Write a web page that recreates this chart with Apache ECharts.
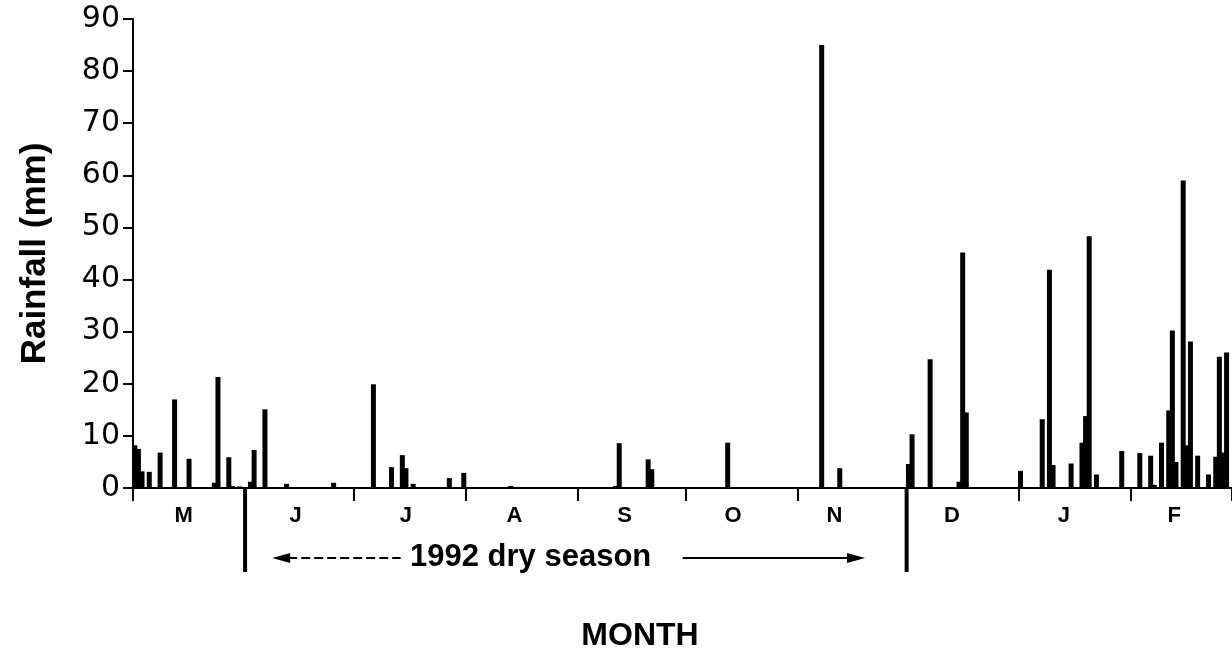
<!DOCTYPE html>
<html>
<head>
<meta charset="utf-8">
<script src="https://cdn.jsdelivr.net/npm/echarts@6/dist/echarts.min.js"></script>
<style>
  html, body { margin: 0; padding: 0; background: #fff; }
  #chart { width: 1232px; height: 660px; }
</style>
</head>
<body>
<div id="chart"></div>
<script>
// day index: 0 = 1 May 1992, 303 = 28 Feb 1993
const rainDays = [0, 1, 2, 4, 7, 11, 15, 22, 23, 26, 27, 29,
  32, 33, 36, 42, 55,
  66, 71, 74, 75, 77, 87, 91,
  104,
  133, 134, 142, 143,
  164,
  190, 195,
  214, 215, 220, 228, 229, 230,
  245, 251, 253, 254, 259, 262, 263, 264, 266, 273,
  278, 281, 282, 284, 286, 287, 288, 290, 291, 292, 294, 297, 299, 300, 301, 302];
const rainMm = [8.2, 7.5, 3.2, 3.1, 6.8, 17.0, 5.6, 1.0, 21.3, 5.9, 0.4, 0.3,
  1.2, 7.3, 15.1, 0.8, 1.0,
  19.9, 4.0, 6.3, 3.8, 0.8, 1.9, 2.9,
  0.4,
  0.4, 8.6, 5.5, 3.6,
  8.7,
  85.0, 3.8,
  4.6, 10.3, 24.7, 1.2, 45.2, 14.5,
  3.3, 13.2, 41.9, 4.4, 4.7, 8.7, 13.8, 48.3, 2.6, 7.1,
  6.7, 6.2, 0.6, 8.7, 14.9, 30.2, 5.0, 59.0, 8.2, 28.1, 6.2, 2.6, 6.0, 25.2, 6.8, 26.0];

const monthStarts = [0, 31, 61, 92, 123, 153, 184, 214, 245, 276, 304];
const monthLetters = ['M', 'J', 'J', 'A', 'S', 'O', 'N', 'D', 'J', 'F'];
const monthLabelDays = [14, 45, 75.5, 105.5, 136, 166, 194, 226.5, 257.5, 288];
const seasonBounds = [31, 214]; // 1 Jun, 1 Dec
const seasonArrow = [38.5, 202.5];

const chart = echarts.init(document.getElementById('chart'));

const font = 'Liberation Sans, Arial, Helvetica, sans-serif';

var option = {
  animation: false,
  grid: { left: 133, right: 0, top: 19, bottom: 172 },
  xAxis: [
    {
      type: 'value',
      min: 0,
      max: 304,
      axisLine: { onZero: false, lineStyle: { color: '#000', width: 2 } },
      axisTick: {
        show: true,
        customValues: monthStarts,
        length: 13,
        lineStyle: { color: '#000', width: 2 }
      },
      axisLabel: {
        customValues: monthLabelDays,
        formatter: function (v) {
          const i = monthLabelDays.findIndex(d => Math.abs(d - v) < 0.01);
          return i >= 0 ? monthLetters[i] : '';
        },
        color: '#000',
        fontSize: 22,
        fontWeight: 'bold',
        fontFamily: font,
        margin: 17
      },
      splitLine: { show: false }
    },
    {
      type: 'value',
      position: 'top',
      min: 0,
      max: 304,
      axisLine: { show: true, lineStyle: { color: '#000', width: 2 } },
      axisTick: { show: false },
      axisLabel: { show: false },
      splitLine: { show: false }
    }
  ],
  yAxis: {
    type: 'value',
    min: 0,
    max: 90,
    interval: 10,
    axisLine: { show: true, lineStyle: { color: '#000', width: 2 } },
    axisTick: { show: true, length: 10, lineStyle: { color: '#000', width: 2 } },
    axisLabel: { color: '#000', fontSize: 30, fontFamily: 'DejaVu Sans', margin: 13 },
    splitLine: { show: false },
    name: 'Rainfall (mm)',
    nameLocation: 'middle',
    nameGap: 80,
    nameTextStyle: { color: '#000', fontSize: 35, fontWeight: 'bold', fontFamily: font }
  },
  series: [
    {
      type: 'bar',
      barWidth: 5,
      itemStyle: { color: '#000' },
      data: rainDays.map((d, i) => [d + 0.5, rainMm[i]])
    }
  ]
};
chart.setOption(option);

// season markers, dry season arrow and axis title, placed through the axis scales
const px = d => chart.convertToPixel({ xAxisIndex: 0 }, d);
const base = chart.convertToPixel({ yAxisIndex: 0 }, 0);
const arrowY = base + 70;
const x0 = px(seasonArrow[0]);
const x1 = px(seasonArrow[1]);
const textX = (x0 + x1) / 2 - 38;

const graphics = seasonBounds.map(d => ({
  type: 'line',
  shape: { x1: px(d), y1: base, x2: px(d), y2: base + 84 },
  style: { stroke: '#000', lineWidth: 4 }
}));
graphics.push(
  {
    type: 'polygon',
    shape: { points: [[x0, arrowY], [x0 + 18, arrowY - 5], [x0 + 18, arrowY + 5]] },
    style: { fill: '#000' }
  },
  {
    type: 'line',
    shape: { x1: x0 + 16, y1: arrowY, x2: textX - 130, y2: arrowY },
    style: { stroke: '#000', lineWidth: 2, lineDash: [9, 4] }
  },
  {
    type: 'text',
    x: textX,
    y: arrowY - 1,
    style: {
      text: '1992 dry season',
      fill: '#000',
      font: 'bold 31px ' + font,
      align: 'center',
      verticalAlign: 'middle'
    }
  },
  {
    type: 'line',
    shape: { x1: textX + 152, y1: arrowY, x2: x1 - 16, y2: arrowY },
    style: { stroke: '#000', lineWidth: 2 }
  },
  {
    type: 'polygon',
    shape: { points: [[x1, arrowY], [x1 - 18, arrowY - 5], [x1 - 18, arrowY + 5]] },
    style: { fill: '#000' }
  },
  {
    type: 'text',
    x: 640,
    y: base + 148,
    style: {
      text: 'MONTH',
      fill: '#000',
      font: 'bold 32px ' + font,
      align: 'center',
      verticalAlign: 'middle'
    }
  }
);
chart.setOption({ graphic: graphics });
</script>
</body>
</html>
